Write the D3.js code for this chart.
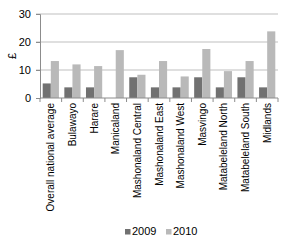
<!DOCTYPE html>
<html>
<head>
<meta charset="utf-8">
<script src="https://cdn.jsdelivr.net/npm/d3@7"></script>
<style>
  body { margin: 0; background: #fff; }
  text { font-family: "Liberation Sans", Arial, sans-serif; fill: #000; }
</style>
</head>
<body>
<div id="chart"></div>
<script>
// data
var regions = ["Overall national average", "Bulawayo", "Harare", "Manicaland",
  "Mashonaland Central", "Mashonaland East", "Mashonaland West", "Masvingo",
  "Matabeleland North", "Matabeleland South", "Midlands"];
var years = ["2009", "2010"];
var values2009 = [5.2, 3.8, 3.8, 0, 7.4, 3.8, 3.8, 7.4, 3.8, 7.4, 3.8];
var values2010 = [13.2, 12.0, 11.4, 17.1, 8.3, 13.2, 7.7, 17.5, 9.6, 13.2, 23.8];
var yTicks = [0, 10, 20, 30];
var colors = ["#717171", "#b9b9b9"];

var svgWidth = 300;
var svgHeight = 251;
var margin = { top: 14, right: 22, bottom: 153, left: 40 };
var chartWidth = svgWidth - margin.left - margin.right;
var chartHeight = svgHeight - margin.top - margin.bottom;

var svg = d3.select("#chart")
  .append("svg")
  .attr("width", svgWidth)
  .attr("height", svgHeight);

var chartGroup = svg.append("g")
  .attr("transform", `translate(${margin.left}, ${margin.top})`);

var xScale = d3.scaleBand()
  .domain(regions)
  .range([0, chartWidth])
  .paddingInner(0.25)
  .paddingOuter(0.125);

var xSub = d3.scaleBand()
  .domain(years)
  .range([0, xScale.bandwidth()]);

var yScale = d3.scaleLinear()
  .domain([0, 30])
  .range([chartHeight, 0]);

// gridlines
chartGroup.selectAll(".grid")
  .data(yTicks.slice(1))
  .enter()
  .append("line")
  .attr("x1", -4)
  .attr("x2", chartWidth)
  .attr("y1", d => yScale(d))
  .attr("y2", d => yScale(d))
  .attr("stroke", "#d4d4d4")
  .attr("stroke-width", 1.3);

// bars
var table = regions.map((r, i) => ({ region: r, vals: [values2009[i], values2010[i]] }));

var groups = chartGroup.selectAll(".region")
  .data(table)
  .enter()
  .append("g")
  .attr("transform", d => `translate(${xScale(d.region)}, 0)`);

groups.selectAll("rect")
  .data(d => d.vals.map((v, j) => ({ year: years[j], v: v, j: j })))
  .enter()
  .append("rect")
  .attr("x", d => xSub(d.year))
  .attr("width", xSub.bandwidth())
  .attr("y", d => yScale(d.v))
  .attr("height", d => chartHeight - yScale(d.v))
  .attr("fill", d => colors[d.j]);

// y axis
var leftAxis = d3.axisLeft(yScale).tickValues(yTicks).tickSize(4).tickPadding(5);
var yAxis = chartGroup.append("g").call(leftAxis);
yAxis.select(".domain").attr("stroke", "#8c8c8c");
yAxis.selectAll(".tick line").attr("stroke", "#8c8c8c");
yAxis.selectAll("text").attr("font-size", 11).attr("font-family", "Liberation Sans, Arial, sans-serif");

// x axis with ticks between categories
var xAxisG = chartGroup.append("g")
  .attr("transform", `translate(0, ${chartHeight})`);
xAxisG.append("line")
  .attr("x1", 0).attr("x2", chartWidth)
  .attr("stroke", "#8c8c8c");
var step = xScale.step();
xAxisG.selectAll(".sep")
  .data(d3.range(regions.length + 1))
  .enter()
  .append("line")
  .attr("x1", d => d * step)
  .attr("x2", d => d * step)
  .attr("y1", 0).attr("y2", 4)
  .attr("stroke", "#8c8c8c");

xAxisG.selectAll(".lbl")
  .data(regions)
  .enter()
  .append("text")
  .attr("transform", d => `translate(${xScale(d) + xScale.bandwidth() / 2 + 3.5}, 5) rotate(-90)`)
  .attr("text-anchor", "end")
  .attr("font-size", 10)
  .text(d => d);

// y label
svg.append("text")
  .attr("transform", `translate(16, ${margin.top + chartHeight / 2}) rotate(-90)`)
  .attr("text-anchor", "middle")
  .attr("font-size", 11)
  .text("£");

// legend
var legend = svg.append("g").attr("transform", "translate(125, 235)");
var legendX = [0, 41];
years.forEach(function(y, i) {
  legend.append("rect")
    .attr("x", legendX[i])
    .attr("y", -6)
    .attr("width", 5.5)
    .attr("height", 5.5)
    .attr("fill", colors[i]);
  legend.append("text")
    .attr("x", legendX[i] + 7)
    .attr("y", 0)
    .attr("font-size", 11)
    .text(y);
});
</script>
</body>
</html>
